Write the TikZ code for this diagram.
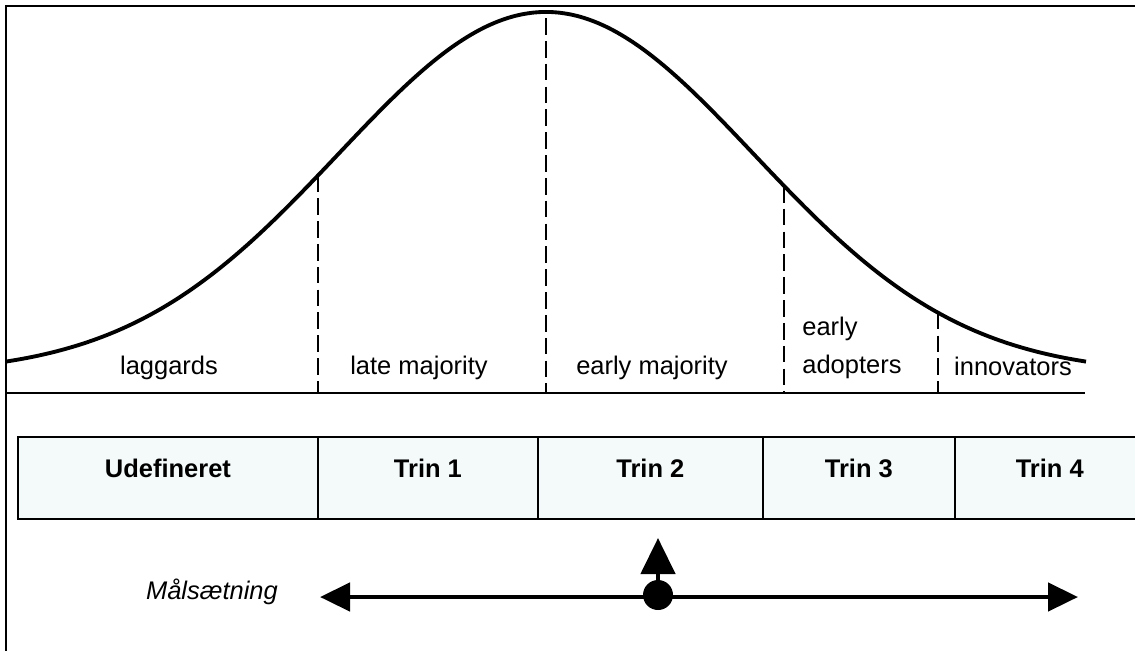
\documentclass[tikz,border=0pt]{standalone}
\usepackage{fontspec}
\setmainfont{Liberation Sans}
\usepackage{tikz}
\usetikzlibrary{arrows.meta, positioning}

\definecolor{stagefill}{RGB}{244,250,250}
\newcommand{\diagfont}{\fontsize{14.5pt}{24pt}\selectfont}

\begin{document}
\begin{tikzpicture}[x=0.02cm, y=-0.02cm, font=\diagfont,
    declare function={bell(\x)=374-362*exp(-0.5*((\x-546)/208)^2);},
    divider/.style={line width=0.7pt, dash pattern=on 9.5pt off 3.5pt},
    segment/.style={anchor=base},
    stage/.style={draw, line width=0.8pt, fill=stagefill, outer sep=0pt,
        minimum height=1.64cm, text height=0.38cm, text depth=0.42cm, font=\diagfont\bfseries},
    goal/.style={line width=2.6pt, arrows={Triangle[length=0.6cm,width=0.56cm]-Triangle[length=0.6cm,width=0.56cm]}}]
    \useasboundingbox (0,0) rectangle (1135,650);

    \draw[line width=1.2pt] (6,660) -- (6,6) -- (1145,6);

    % adoption curve
    \draw[line width=2.2pt] plot[domain=6:1086, samples=120, smooth] (\x,{bell(\x)});
    \draw[line width=1pt] (6,393) -- (1085,393);
    \draw[divider] (318,{bell(318)}) -- (318,393);
    \draw[divider] (546,18) -- (546,393);
    \draw[divider] (784,{bell(784)}) -- (784,393);
    \draw[divider] (938,{bell(938)}) -- (938,393);

    \node[segment] (laggards) at (169,374) {laggards};
    \node[segment] (latemaj) at (419,374) {late majority};
    \node[segment] (earlymaj) at (652,374) {early majority};
    \node[segment, anchor=base west, inner sep=0pt] (early) at (802,335) {early};
    \node[segment, anchor=base west, inner sep=0pt] (adopters) at (802,373) {adopters};
    \node[segment] (innov) at (1013,375) {innovators};

    % stages
    \node[stage, minimum width=6cm, anchor=north west] (udef) at (18,437) {Udefineret};
    \node[stage, minimum width=4.4cm, right=0pt of udef] (trin1) {Trin 1};
    \node[stage, minimum width=4.5cm, right=0pt of trin1] (trin2) {Trin 2};
    \node[stage, minimum width=3.84cm, right=0pt of trin2] (trin3) {Trin 3};
    \node[stage, minimum width=3.8cm, right=0pt of trin3] (trin4) {Trin 4};

    \node[anchor=base east, font=\diagfont\itshape] (target) at (284,599) {Målsætning};
    \coordinate (goalL) at (320,597);
    \coordinate (goalR) at (1078,597);
    \coordinate (up) at (658,538);
    \draw[goal] (goalL) -- (goalR);
    \node[circle, fill, minimum size=0.6cm, inner sep=0pt] (now) at (658,595) {};
    \draw[line width=2.6pt, -{Triangle[length=0.72cm,width=0.68cm]}] (now.center) -- (up);
\end{tikzpicture}
\end{document}
